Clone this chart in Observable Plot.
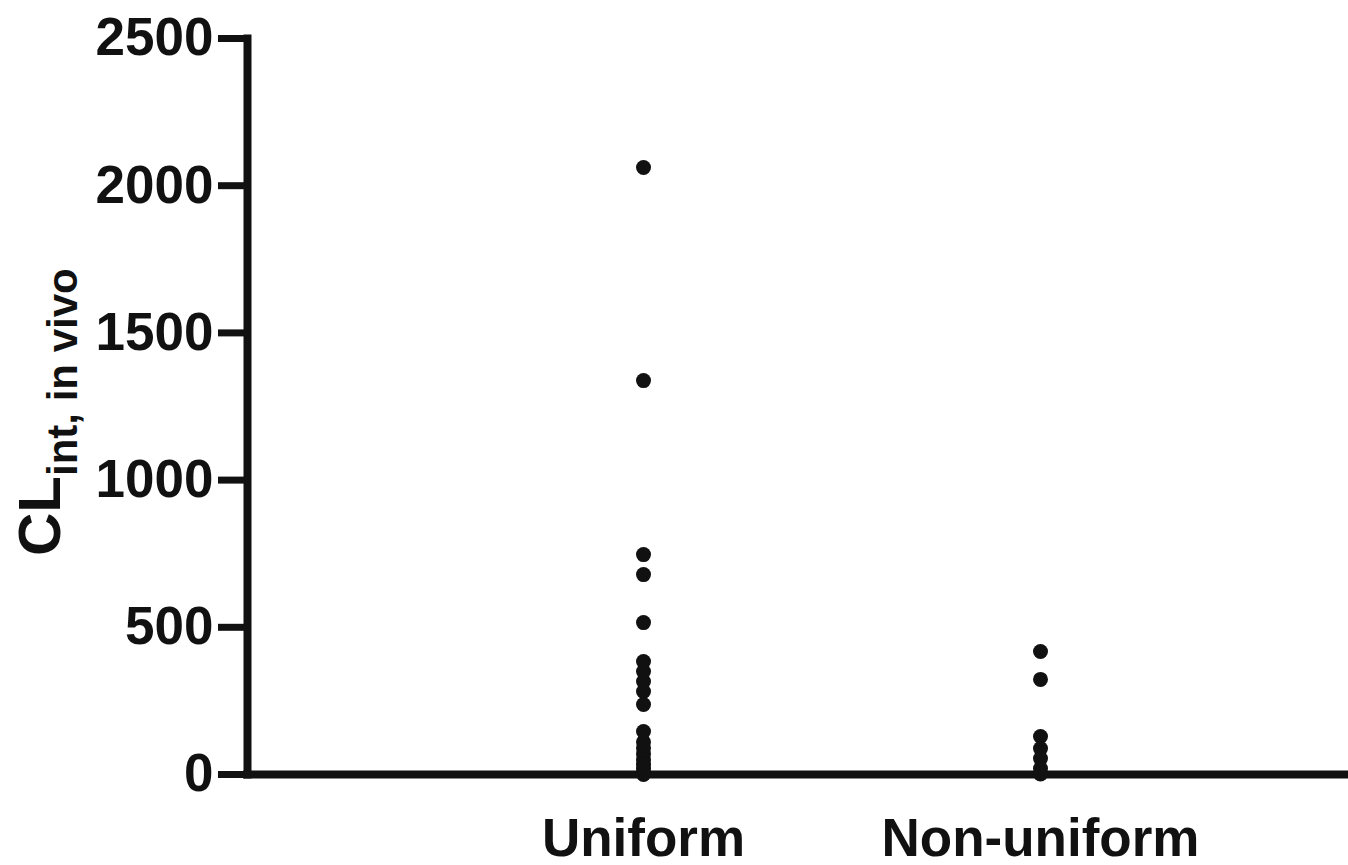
<!DOCTYPE html>
<html>
<head>
<meta charset="utf-8">
<script src="https://cdn.jsdelivr.net/npm/d3@7"></script>
<script src="https://cdn.jsdelivr.net/npm/@observablehq/plot@0.6"></script>
<style>
  html, body { margin: 0; padding: 0; background: #fff; }
  svg { display: block; }
</style>
</head>
<body>
<div id="chart"></div>
<script>
const categories = ["Uniform", "Non-uniform"];
const uniformValues = [2062, 1338, 747, 679, 516, 384, 350, 316, 282, 238, 146, 110, 90, 70, 50, 35, 20, 8, 0];
const nonUniformValues = [418, 323, 129, 88, 54, 20, 2];
const yTicks = [0, 500, 1000, 1500, 2000, 2500];
const yLabelMain = "CL";
const yLabelSub = "int, in vivo";

const data = [
  ...uniformValues.map(v => ({group: categories[0], value: v})),
  ...nonUniformValues.map(v => ({group: categories[1], value: v}))
];

const FONT = "'Liberation Sans', Arial, Helvetica, sans-serif";

const chart = Plot.plot({
  width: 1348,
  height: 865,
  marginTop: 38,
  marginBottom: 91,
  marginLeft: 247,
  marginRight: 0,
  style: {fontFamily: FONT, fontWeight: "bold", fontSize: "53px", color: "#111", background: "#fff", overflow: "visible"},
  x: {type: "point", domain: categories, range: [643, 1040], padding: 0},
  y: {domain: [0, 2500]},
  marks: [
    Plot.frame({anchor: "left", stroke: "#111", strokeWidth: 8}),
    Plot.axisY(yTicks, {tickSize: 29, strokeWidth: 7, stroke: "#111", tickPadding: 5, tickFormat: d => String(d), fontSize: 53, fontWeight: "bold", label: null}),
    Plot.axisX({tickSize: 0, tickPadding: 44, fontSize: 53, fontWeight: "bold", label: null}),
    Plot.ruleY([0], {stroke: "#111", strokeWidth: 8, strokeLinecap: "square"}),
    Plot.dot(data, {x: "group", y: "value", r: 7.5, fill: "#111", stroke: "none"})
  ]
});

document.getElementById("chart").appendChild(chart);

const svg = d3.select(chart);
const lab = svg.append("text")
  .attr("transform", "translate(60,556) rotate(-90)")
  .attr("text-anchor", "start")
  .attr("font-family", FONT)
  .attr("font-weight", "bold")
  .attr("font-size", 60)
  .attr("fill", "#111");
lab.append("tspan").text(yLabelMain);
lab.append("tspan").attr("font-size", 42).attr("dy", 17).text(yLabelSub);
</script>
</body>
</html>
